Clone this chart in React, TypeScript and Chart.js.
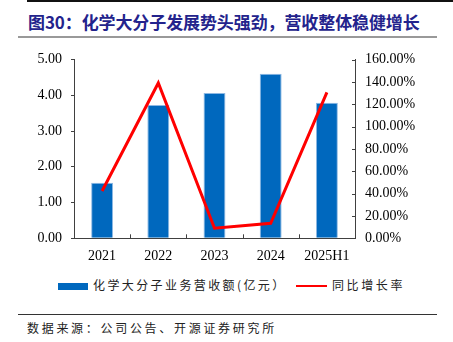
import React, { useEffect, useRef } from "react";
import { Chart, registerables } from "chart.js";

Chart.register(...registerables);

const categories = ["2021", "2022", "2023", "2024", "2025H1"];
const revenue = [1.55, 3.73, 4.06, 4.6, 3.79];
const growth = [42.3, 139.0, 9.0, 13.4, 130.5];
const leftTicks = [0, 1, 2, 3, 4, 5];
const rightTicks = [0, 20, 40, 60, 80, 100, 120, 140, 160];

const titleText = "图30：化学大分子发展势头强劲，营收整体稳健增长";
const barLabel = "化学大分子业务营收额(亿元）";
const lineLabel = "同比增长率";
const sourceText = "数据来源：公司公告、开源证券研究所";

const AXIS = "#404040";
const SERIF = "'Liberation Serif', 'Times New Roman', serif";
const CJK = "'Noto Sans CJK SC', sans-serif";

const innerTicks = {
  id: "innerTicks",
  afterDraw(chart: any) {
    const { ctx, chartArea, scales } = chart;
    const x = scales.x;
    const y1 = scales.y1;
    ctx.save();
    ctx.strokeStyle = AXIS;
    ctx.lineWidth = 1;
    ctx.beginPath();
    for (let i = 0; i < categories.length - 1; i++) {
      const px = Math.round((x.getPixelForValue(i) + x.getPixelForValue(i + 1)) / 2) + 0.5;
      ctx.moveTo(px, chartArea.bottom);
      ctx.lineTo(px, chartArea.bottom - 4);
    }
    for (const v of rightTicks) {
      const py = Math.round(y1.getPixelForValue(v)) + 0.5;
      ctx.moveTo(chartArea.right, py);
      ctx.lineTo(chartArea.right - 3, py);
    }
    ctx.stroke();
    ctx.restore();
  },
};

export default function App() {
  const ref = useRef<HTMLCanvasElement | null>(null);

  useEffect(() => {
    if (!ref.current) return;
    const chart = new Chart(ref.current, {
      type: "bar",
      data: {
        labels: categories,
        datasets: [
          {
            type: "line",
            label: lineLabel,
            data: growth,
            yAxisID: "y1",
            borderColor: "#FF0000",
            backgroundColor: "#FF0000",
            borderWidth: 3,
            pointRadius: 0,
            tension: 0,
            order: 0,
          } as any,
          {
            type: "bar",
            label: barLabel,
            data: revenue,
            yAxisID: "y",
            backgroundColor: "#0068BE",
            borderColor: "#8DB8E3",
            borderWidth: 1,
            barPercentage: 0.39,
            categoryPercentage: 1,
            order: 1,
          },
        ],
      },
      options: {
        responsive: false,
        animation: false,
        devicePixelRatio: 1,
        layout: { padding: { top: 19.5, left: 0, right: 0, bottom: 0 } },
        plugins: {
          legend: { display: false },
          tooltip: { enabled: false },
        },
        scales: {
          x: {
            offset: true,
            grid: { display: true, drawOnChartArea: false, drawTicks: false, color: AXIS },
            border: { display: true, color: AXIS, width: 1 },
            ticks: { color: "#000", font: { family: SERIF, size: 14 }, padding: 10, maxRotation: 0 },
            afterFit(scale: any) {
              scale.height = 33.7;
            },
          },
          y: {
            position: "left",
            min: 0,
            max: 5,
            afterBuildTicks(scale: any) {
              scale.ticks = leftTicks.map((v) => ({ value: v }));
            },
            grid: { display: true, drawOnChartArea: false, drawTicks: true, tickLength: 3, color: AXIS },
            border: { display: true, color: AXIS, width: 1 },
            ticks: {
              color: "#000",
              font: { family: SERIF, size: 14 },
              padding: 9,
              callback: (v: any) => Number(v).toFixed(2),
            },
            afterFit(scale: any) {
              scale.width = 74;
            },
          },
          y1: {
            position: "right",
            min: 0,
            max: 160,
            afterBuildTicks(scale: any) {
              scale.ticks = rightTicks.map((v) => ({ value: v }));
            },
            grid: { display: true, drawOnChartArea: false, drawTicks: false, color: AXIS },
            border: { display: true, color: AXIS, width: 1 },
            ticks: {
              color: "#000",
              font: { family: SERIF, size: 14 },
              padding: 10,
              callback: (v: any) => Number(v).toFixed(2) + "%",
            },
            afterFit(scale: any) {
              scale.width = 98;
            },
          },
        },
      },
      plugins: [innerTicks],
    });
    return () => chart.destroy();
  }, []);

  return (
    <div style={{ position: "fixed", left: 0, top: 0, width: 453, height: 342, background: "#fff", overflow: "hidden" }}>
      <div style={{ position: "absolute", left: 27, top: 0, width: 426, height: 2, background: "#111" }} />
      <div
        style={{
          position: "absolute",
          left: 28,
          top: 11,
          fontFamily: CJK,
          fontWeight: "bold",
          fontSize: 17,
          letterSpacing: -0.1,
          lineHeight: "22px",
          color: "#23238C",
          whiteSpace: "nowrap",
        }}
      >
        {titleText}
      </div>
      <div style={{ position: "absolute", left: 18, top: 36, width: 419, height: 2, background: "#999" }} />
      <canvas
        ref={ref}
        width={453}
        height={232}
        style={{ position: "absolute", left: 0, top: 40, width: 453, height: 232 }}
      />
      <div style={{ position: "absolute", left: 58, top: 283, width: 30, height: 7, background: "#0068BE" }} />
      <div
        style={{
          position: "absolute",
          left: 93,
          top: 277,
          fontFamily: CJK,
          fontSize: 12,
          letterSpacing: 2.4,
          lineHeight: "16px",
          color: "#222",
          whiteSpace: "nowrap",
        }}
      >
        {barLabel}
      </div>
      <div style={{ position: "absolute", left: 296, top: 284.5, width: 31, height: 2.5, background: "#FF0000" }} />
      <div
        style={{
          position: "absolute",
          left: 332,
          top: 277,
          fontFamily: CJK,
          fontSize: 12,
          letterSpacing: 2.6,
          lineHeight: "16px",
          color: "#222",
          whiteSpace: "nowrap",
        }}
      >
        {lineLabel}
      </div>
      <div style={{ position: "absolute", left: 18, top: 314, width: 419, height: 1, background: "#333" }} />
      <div
        style={{
          position: "absolute",
          left: 27,
          top: 320,
          fontFamily: CJK,
          fontSize: 12,
          letterSpacing: 2.7,
          lineHeight: "16px",
          color: "#222",
          whiteSpace: "nowrap",
        }}
      >
        {sourceText}
      </div>
    </div>
  );
}
